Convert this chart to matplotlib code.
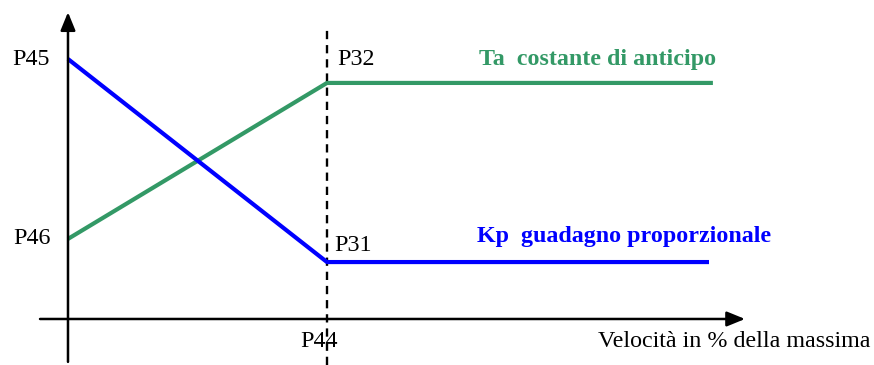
import matplotlib
matplotlib.use('Agg')
import matplotlib.pyplot as plt

# speed axis (arbitrary units, P44 = 1)
speed_ta = [0.0, 1.0, 2.49]
speed_kp = [0.0, 1.0, 2.475]
# parameter levels (arbitrary units)
ta_values = [3.08, 9.08, 9.08]   # P46 -> P32
kp_values = [10.0, 2.19, 2.19]   # P45 -> P31
point_labels_left = ['P45', 'P46']
point_labels_break = ['P32', 'P31']
break_label = 'P44'

GREEN = '#339966'
BLUE = '#0000ff'

plt.rcParams['font.family'] = ['Liberation Serif', 'DejaVu Serif']

fig = plt.figure(figsize=(8.74, 3.65), dpi=100)
ax = fig.add_axes([0, 0, 1, 1])
ax.set_xlim(-0.2625, 3.112)
ax.set_ylim(-1.77, 12.27)
ax.axis('off')

# axes with arrows
arrow = '-|>,head_length=1.1,head_width=0.45'
ax.annotate('', xy=(0, 11.8), xytext=(0, -1.65),
            arrowprops=dict(arrowstyle=arrow, color='black', lw=1.8,
                            shrinkA=0, shrinkB=0))
ax.annotate('', xy=(2.614, 0), xytext=(-0.108, 0),
            arrowprops=dict(arrowstyle=arrow, color='black', lw=1.8,
                            shrinkA=0, shrinkB=0))

# dashed line at P44
ax.plot([speed_ta[1], speed_ta[1]], [-1.77, 11.1], color='black', lw=1.7,
        linestyle=(0, (3.5, 2.5)))

ax.plot(speed_ta, ta_values, color=GREEN, lw=3.0, solid_capstyle='butt')
ax.plot(speed_kp, kp_values, color=BLUE, lw=3.0, solid_capstyle='butt')

fs = 17.3
ax.text(-0.07, kp_values[0], point_labels_left[0], ha='right', va='center', fontsize=fs)
ax.text(-0.065, ta_values[0], point_labels_left[1], ha='right', va='center', fontsize=fs)
ax.text(speed_ta[1] + 0.04, ta_values[1] + 0.92, point_labels_break[0],
        ha='left', va='center', fontsize=fs)
ax.text(speed_kp[1] + 0.03, kp_values[1] + 0.65, point_labels_break[1],
        ha='left', va='center', fontsize=fs)
ax.text(speed_ta[1] - 0.03, -0.88, break_label, ha='center', va='center', fontsize=fs)
ax.text(2.045, -0.85, 'Velocità in % della massima', ha='left', va='center', fontsize=fs)

ax.text(1.585, ta_values[1] + 0.92, 'Ta  costante di anticipo', ha='left', va='center',
        fontsize=fs, fontweight='bold', color=GREEN)
ax.text(1.58, kp_values[1] + 1.0, 'Kp  guadagno proporzionale', ha='left', va='center',
        fontsize=fs, fontweight='bold', color=BLUE)

fig.savefig('out.png', dpi=100)
